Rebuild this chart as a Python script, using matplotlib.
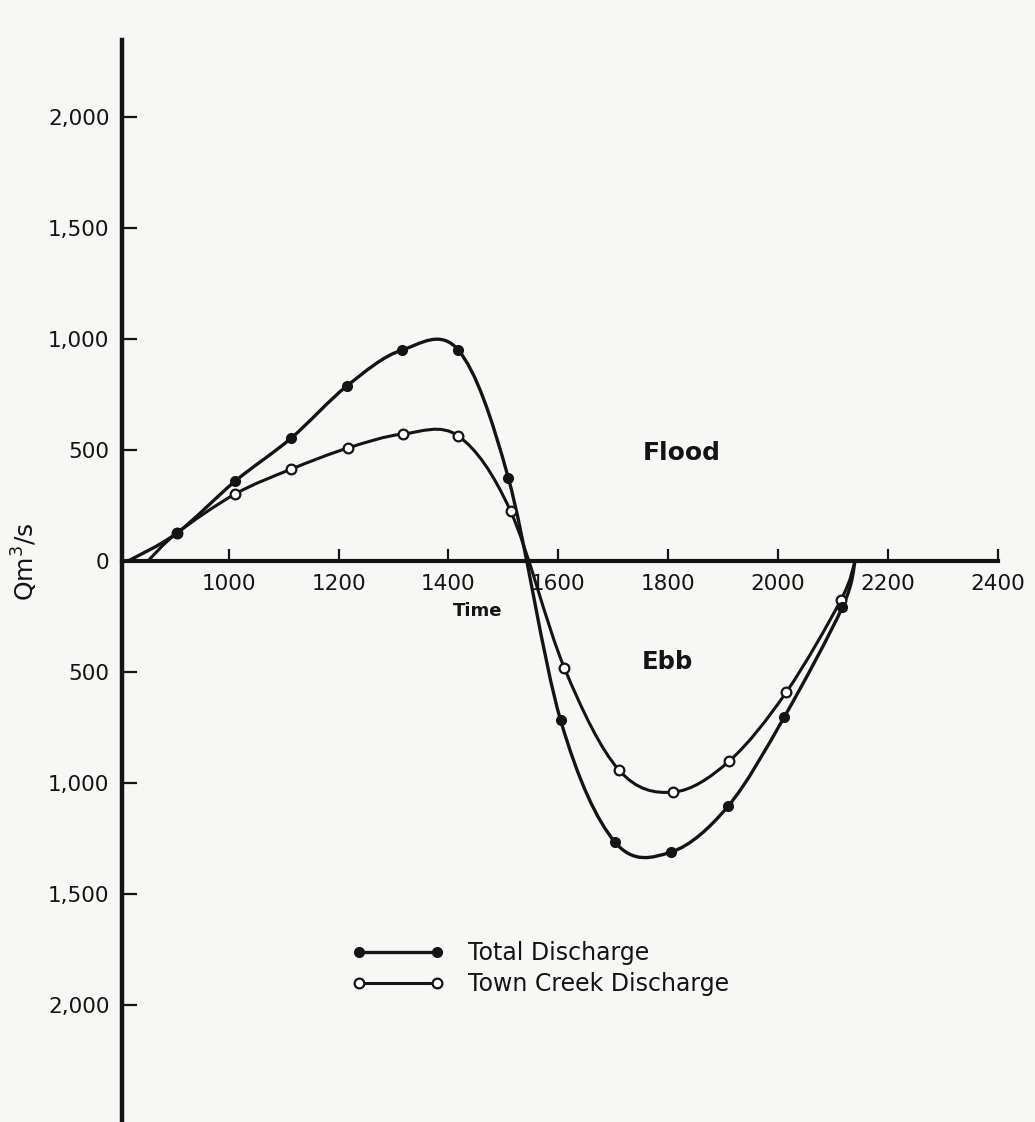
import numpy as np
import matplotlib.pyplot as plt
from matplotlib.path import Path
from matplotlib.patches import PathPatch
from matplotlib.lines import Line2D

# values (time as hhmm, discharge in m3/s)
total_time = [817, 906, 1012, 1114, 1215, 1315, 1418, 1509, 1604, 1703, 1805, 1909, 2011, 2117, 2140]
total_q = [0, 126, 360, 554, 788, 950, 950, 374, -716, -1266, -1311, -1104, -703, -207, 0]

town_time = [853, 906, 1012, 1114, 1217, 1317, 1418, 1513, 1611, 1710, 1809, 1911, 2015, 2114, 2140]
town_q = [0, 126, 302, 414, 509, 572, 563, 225, -482, -941, -1041, -901, -590, -176, 0]

xticks = [1000, 1200, 1400, 1600, 1800, 2000, 2200, 2400]
yticks = [2000, 1500, 1000, 500, 0, -500, -1000, -1500, -2000]
ylabels = ['2,000', '1,500', '1,000', '500', '0', '500', '1,000', '1,500', '2,000']

ink = '#141414'
paper = '#f7f7f5'


def smooth_path(x, y):
    # catmull-rom through the points, written as cubic bezier segments
    pts = np.column_stack([x, y]).astype(float)
    ext = np.vstack([pts[0], pts, pts[-1]])
    verts = [pts[0]]
    codes = [Path.MOVETO]
    for i in range(len(pts) - 1):
        p0, p1, p2, p3 = ext[i], ext[i + 1], ext[i + 2], ext[i + 3]
        verts += [p1 + (p2 - p0) / 6, p2 - (p3 - p1) / 6, p2]
        codes += [Path.CURVE4] * 3
    return Path(verts, codes)


fig = plt.figure(figsize=(10.35, 11.22), dpi=100, facecolor=paper)
ax = fig.add_axes([122 / 1035, 0, 876 / 1035, 1082 / 1122])
ax.set_facecolor(paper)

ax.add_patch(PathPatch(smooth_path(town_time, town_q), fill=False, ec=ink, lw=2.2, zorder=3))
ax.add_patch(PathPatch(smooth_path(total_time, total_q), fill=False, ec=ink, lw=2.4, zorder=3))
ax.plot(town_time[1:-1], town_q[1:-1], ls='none', marker='o', ms=7, mfc='white',
        mec=ink, mew=1.6, zorder=4)
ax.plot(total_time[1:-1], total_q[1:-1], ls='none', marker='o', ms=7, mfc=ink,
        mec=ink, zorder=5)

ax.set_xlim(806, 2400)
ax.set_ylim(-2527, 2347)

ax.spines['top'].set_visible(False)
ax.spines['right'].set_visible(False)
ax.spines['bottom'].set_position(('data', 0))
ax.spines['left'].set_linewidth(3.2)
ax.spines['bottom'].set_linewidth(3.0)
ax.spines['left'].set_color(ink)
ax.spines['bottom'].set_color(ink)

ax.set_xticks(xticks)
ax.set_xticklabels([str(t) for t in xticks])
ax.set_yticks(yticks)
ax.set_yticklabels(ylabels)
ax.tick_params(axis='x', direction='in', length=9, width=1.6, pad=9,
               labelsize=15.5, colors=ink)
ax.tick_params(axis='y', direction='in', length=11, width=1.6, pad=9,
               labelsize=15.5, colors=ink)
ax.yaxis.get_major_ticks()[4].tick1line.set_visible(False)

ax.set_xlabel('Time', fontsize=13, fontweight='bold', color=ink, va='center')
ax.xaxis.set_label_coords(0.406, 0.472)
ax.set_ylabel('Qm$^3$/s', fontsize=18, color=ink, va='center')
ax.yaxis.set_label_coords(-0.111, 0.518)

ax.text(1825, 486, 'Flood', fontsize=18, fontweight='bold', ha='center', va='center', color=ink)
ax.text(1798, -455, 'Ebb', fontsize=17.5, fontweight='bold', ha='center', va='center', color=ink)

handles = [
    Line2D([], [], color=ink, lw=2.4, marker='o', ms=7, mfc=ink, mec=ink),
    Line2D([], [], color=ink, lw=2.2, marker='o', ms=7, mfc='white', mec=ink, mew=1.6),
]
ax.legend(handles, ['Total Discharge', 'Town Creek Discharge'], numpoints=2,
          frameon=False, fontsize=17, handlelength=3.9, handletextpad=1.0,
          labelspacing=0.3, borderpad=0, borderaxespad=0, loc='upper left',
          bbox_to_anchor=(352 / 1035, 1 - 941 / 1122), bbox_transform=fig.transFigure,
          labelcolor=ink)

fig.savefig('out.png', dpi=100, facecolor=paper)
